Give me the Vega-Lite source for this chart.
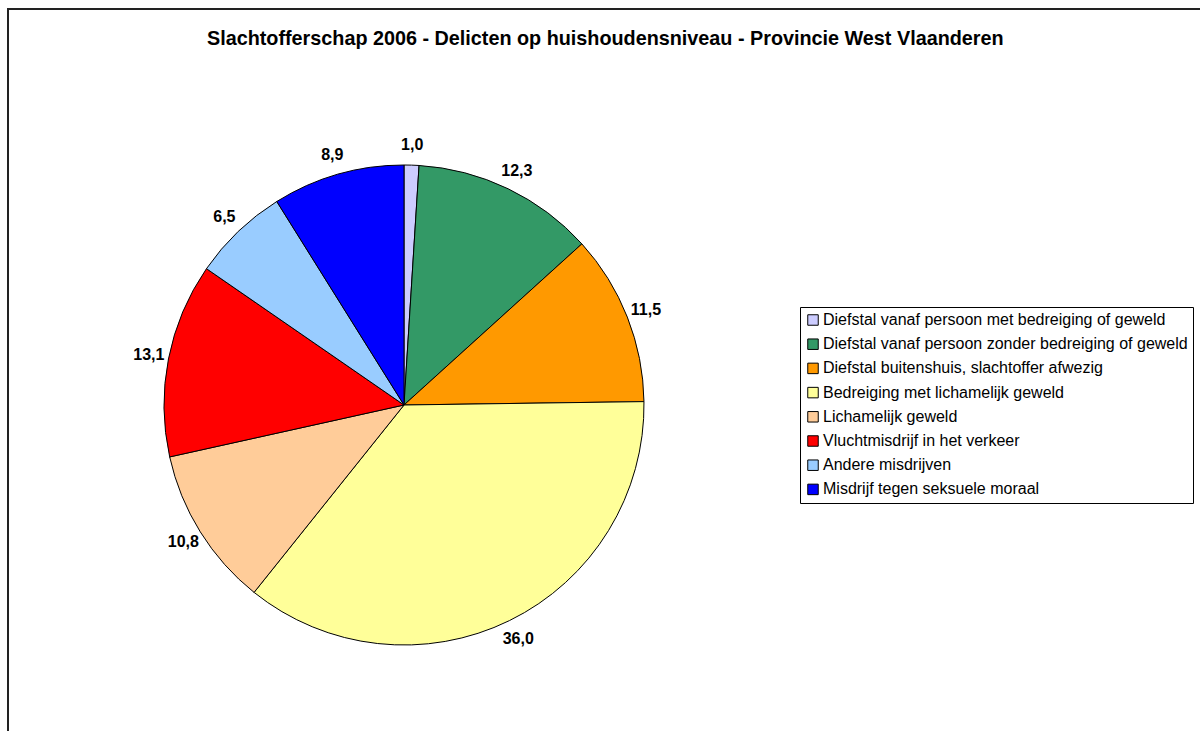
{
  "$schema": "https://vega.github.io/schema/vega-lite/v6.json",
  "autosize": {"type": "none"},
  "padding": {"left": 8, "top": 9, "right": -12, "bottom": -10},
  "width": 1204,
  "height": 732,
  "background": "white",
  "view": {"stroke": "#222222", "strokeWidth": 2, "fill": "white"},
  "config": {
    "font": "Liberation Sans"
  },
  "title": {
    "text": "Slachtofferschap 2006 - Delicten op huishoudensniveau - Provincie West Vlaanderen",
    "fontSize": 19.8,
    "fontWeight": "bold",
    "font": "Liberation Sans",
    "color": "black",
    "anchor": "start",
    "frame": "group",
    "orient": "top",
    "baseline": "middle",
    "dx": 199,
    "offset": -50
  },
  "data": {
    "values": [
      {"volgorde": 1, "categorie": "Diefstal vanaf persoon met bedreiging of geweld", "waarde": 1.0, "label": "1,0"},
      {"volgorde": 2, "categorie": "Diefstal vanaf persoon zonder bedreiging of geweld", "waarde": 12.3, "label": "12,3"},
      {"volgorde": 3, "categorie": "Diefstal buitenshuis, slachtoffer afwezig", "waarde": 11.5, "label": "11,5"},
      {"volgorde": 4, "categorie": "Bedreiging met lichamelijk geweld", "waarde": 36.0, "label": "36,0"},
      {"volgorde": 5, "categorie": "Lichamelijk geweld", "waarde": 10.8, "label": "10,8"},
      {"volgorde": 6, "categorie": "Vluchtmisdrijf in het verkeer", "waarde": 13.1, "label": "13,1"},
      {"volgorde": 7, "categorie": "Andere misdrijven", "waarde": 6.5, "label": "6,5"},
      {"volgorde": 8, "categorie": "Misdrijf tegen seksuele moraal", "waarde": 8.9, "label": "8,9"}
    ]
  },
  "encoding": {
    "theta": {"field": "waarde", "type": "quantitative", "stack": true},
    "order": {"field": "volgorde", "type": "quantitative"}
  },
  "layer": [
    {
      "mark": {"type": "arc", "x": 396, "y": 396, "outerRadius": 240, "stroke": "black", "strokeWidth": 1},
      "encoding": {
        "color": {
          "field": "categorie",
          "type": "nominal",
          "sort": null,
          "scale": {
            "domain": [
              "Diefstal vanaf persoon met bedreiging of geweld",
              "Diefstal vanaf persoon zonder bedreiging of geweld",
              "Diefstal buitenshuis, slachtoffer afwezig",
              "Bedreiging met lichamelijk geweld",
              "Lichamelijk geweld",
              "Vluchtmisdrijf in het verkeer",
              "Andere misdrijven",
              "Misdrijf tegen seksuele moraal"
            ],
            "range": ["#CCCCFF", "#339966", "#FF9900", "#FFFF99", "#FFCC99", "#FF0000", "#99CCFF", "#0000FF"]
          },
          "legend": {
            "title": null,
            "orient": "none",
            "legendX": 792,
            "legendY": 298,
            "strokeColor": "black",
            "fillColor": "white",
            "padding": 5,
            "symbolType": "square",
            "symbolSize": 110,
            "symbolStrokeColor": "black",
            "symbolStrokeWidth": 1,
            "symbolOpacity": 1,
            "labelFontSize": 16,
            "labelFont": "Liberation Sans",
            "labelColor": "black",
            "labelOffset": 2,
            "labelLimit": 500,
            "rowPadding": 8.2
          }
        }
      }
    },
    {
      "mark": {"type": "text", "x": 396, "y": 396, "radius": 260, "fontSize": 16, "fontWeight": "bold", "font": "Liberation Sans", "color": "black"},
      "encoding": {
        "text": {"field": "label", "type": "nominal"}
      }
    }
  ]
}
